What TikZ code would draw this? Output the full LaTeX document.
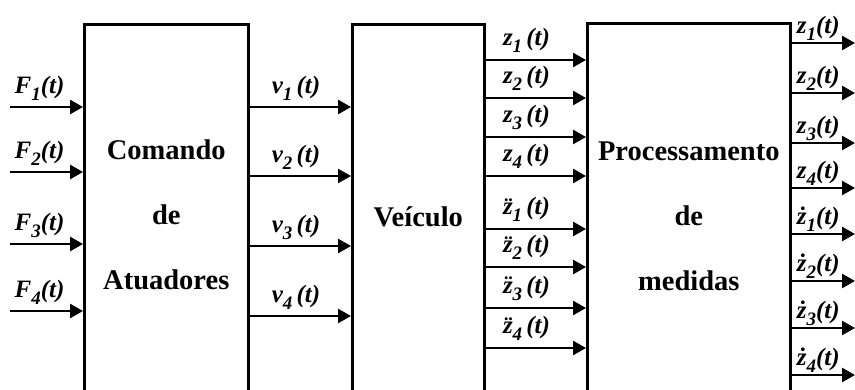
\documentclass[tikz,border=0pt]{standalone}
\usepackage{fontspec}
\setmainfont{Liberation Serif}
\usetikzlibrary{arrows.meta}
\newcommand\mysub[1]{\raisebox{-0.28em}{\fontsize{19}{19}\selectfont #1}}
\newcommand\sig[3][]{\textbf{\textit{#2\mysub{#3}#1(t)}}}
\begin{document}
\begin{tikzpicture}[x=1pt,y=-1pt,line width=2.6pt,
  >={Triangle[length=13pt,width=14pt]},
  box/.style={draw,inner sep=0pt,anchor=north west,align=center,
    font=\fontsize{28.5}{65}\selectfont\bfseries},
  lbl/.style={inner sep=0pt,font=\fontsize{25}{25}\selectfont}]
\clip (0,0) rectangle (855,390);
\useasboundingbox (0,0) rectangle (855,390);
\node[box,minimum width=164pt,minimum height=380pt] (b1) at (83,23) {Comando\\de\\Atuadores};
\node[box,minimum width=132pt,minimum height=386pt] (b2) at (351,23) {Ve\'iculo};
\node[box,minimum width=203pt,minimum height=386pt] (b3) at (586,22) {Processamento\\de\\medidas};
% inputs F
\foreach \y/\n in {107/1,172/2,244/3,311/4}{
  \coordinate (f\n) at (10,\y);
  \draw[->] (f\n) -- (f\n -| b1.west) node[lbl,midway,xshift=-7pt,yshift=19pt]{\sig{F}{\n}};
}
% v
\foreach \y/\n in {107/1,176/2,246/3,316/4}{
  \coordinate (v\n) at (247,\y);
  \draw[->] (v\n) -- (v\n -| b2.west) node[lbl,midway,xshift=-3pt,yshift=19pt]{\sig[\,]{v}{\n}};
}
% z from vehicle
\foreach \y/\n in {60/1,98/2,137/3,176/4}{
  \coordinate (z\n) at (483,\y);
  \draw[->] (z\n) -- (z\n -| b3.west) node[lbl,midway,xshift=-8pt,yshift=20pt]{\sig[\,]{z}{\n}};
}
\foreach \y/\n in {229/1,267/2,308/3,348/4}{
  \coordinate (zz\n) at (483,\y);
  \draw[->] (zz\n) -- (zz\n -| b3.west) node[lbl,midway,xshift=-8pt,yshift=20pt]{\sig[\,]{\"z}{\n}};
}
% outputs
\foreach \y/\n in {43/1,93/2,143/3,188/4}{
  \coordinate (o\n) at (855,\y);
  \draw[->] (o\n -| b3.east) -- (o\n) node[lbl,midway,xshift=-5pt,yshift=15pt]{\sig{z}{\n}};
}
\foreach \y/\n in {234/1,281/2,328/3,375/4}{
  \coordinate (od\n) at (855,\y);
  \draw[->] (od\n -| b3.east) -- (od\n) node[lbl,midway,xshift=-5pt,yshift=15pt]{\sig{\.z}{\n}};
}
\end{tikzpicture}
\end{document}
